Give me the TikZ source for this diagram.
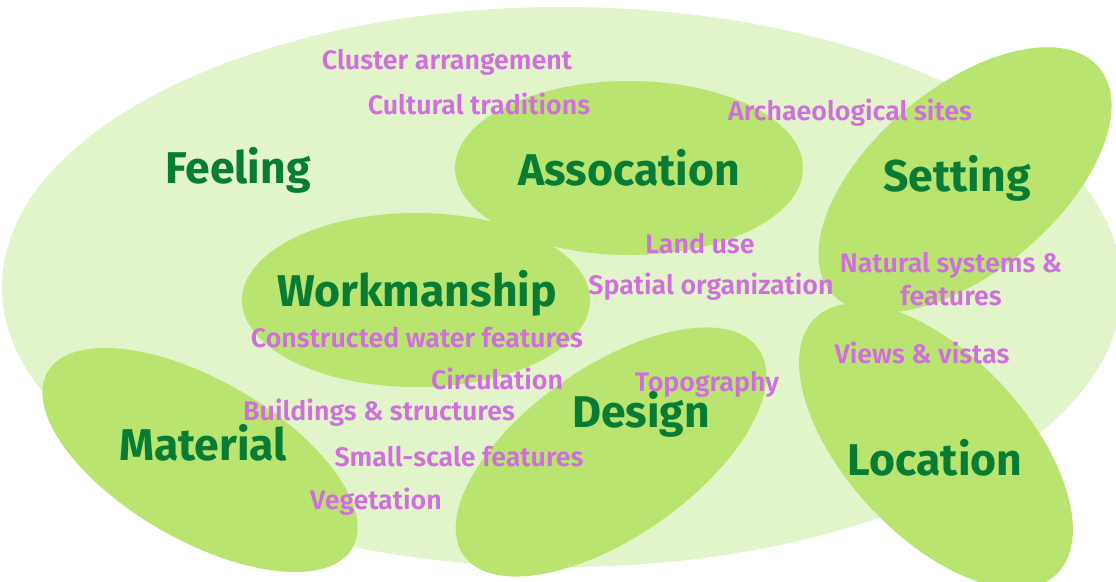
\documentclass[tikz,border=0pt]{standalone}
\usepackage{fontspec}
\setmainfont{Fira Sans}
\newfontfamily\itemfont{Fira Sans SemiBold}
\newfontfamily\headfont{Fira Sans Bold}

\definecolor{outerfill}{RGB}{226,244,202}
\definecolor{innerfill}{RGB}{186,228,112}
\definecolor{headgreen}{RGB}{8,124,52}
\definecolor{itempink}{RGB}{208,110,222}

\tikzset{
  outerblob/.style={fill=outerfill},
  innerblob/.style={fill=innerfill},
  aspect/.style={inner sep=0pt, text=headgreen, font=\headfont\fontsize{44.5}{48}\selectfont},
  feature/.style={inner sep=0pt, text=itempink, align=center, font=\itemfont\fontsize{26.8}{33}\selectfont}
}

\begin{document}
\begin{tikzpicture}[x=1pt,y=-1pt]
\useasboundingbox (0,0) rectangle (1116,581);
\clip (0,0) rectangle (1116,581);

% surrounding field
\fill[outerblob] (562,287) ellipse [x radius=560, y radius=280];

% aspect ellipses
\fill[innerblob] (629,168) ellipse [x radius=174, y radius=87];
\fill[innerblob] (416,300) ellipse [x radius=174, y radius=87];
\fill[innerblob, rotate around={40:(965,180)}] (965,180) ellipse [x radius=175, y radius=92];
\fill[innerblob, rotate around={-47:(936,446)}] (936,446) ellipse [x radius=176, y radius=90];
\fill[innerblob, rotate around={35:(611,452)}] (611,452) ellipse [x radius=180, y radius=85];
\fill[innerblob, rotate around={-30:(200,460)}] (200,460) ellipse [x radius=176, y radius=80];

% aspect names
\node[aspect] (feeling)     at (238,170) {Feeling};
\node[aspect] (assocation)  at (629,168) {Assocation};
\node[aspect] (setting)     at (957,178) {Setting};
\node[aspect] (workmanship) at (417,293) {Workmanship};
\node[aspect] (design)      at (641,414) {Design};
\node[aspect] (material)    at (203,443) {Material};
\node[aspect] (location)    at (935,458) {Location};

% landscape features
\node[feature] (cluster)      at (447,62)  {Cluster arrangement};
\node[feature] (cultural)     at (479,104) {Cultural traditions};
\node[feature] (archaeo)      at (850,113) {Archaeological sites};
\node[feature] (landuse)      at (700,244) {Land use};
\node[feature] (spatial)      at (711,287) {Spatial organization};
\node[feature] (natural)      at (951,279) {Natural systems \&\\features};
\node[feature] (water)        at (417,338) {Constructed water features};
\node[feature] (circulation)  at (497,379) {Circulation};
\node[feature] (views)        at (922,353) {Views \& vistas};
\node[feature] (topography)   at (707,384) {Topography};
\node[feature] (buildings)    at (379,413) {Buildings \& structures};
\node[feature] (smallscale)   at (459,457) {Small-scale features};
\node[feature] (vegetation)   at (376,502) {Vegetation};
\end{tikzpicture}
\end{document}
